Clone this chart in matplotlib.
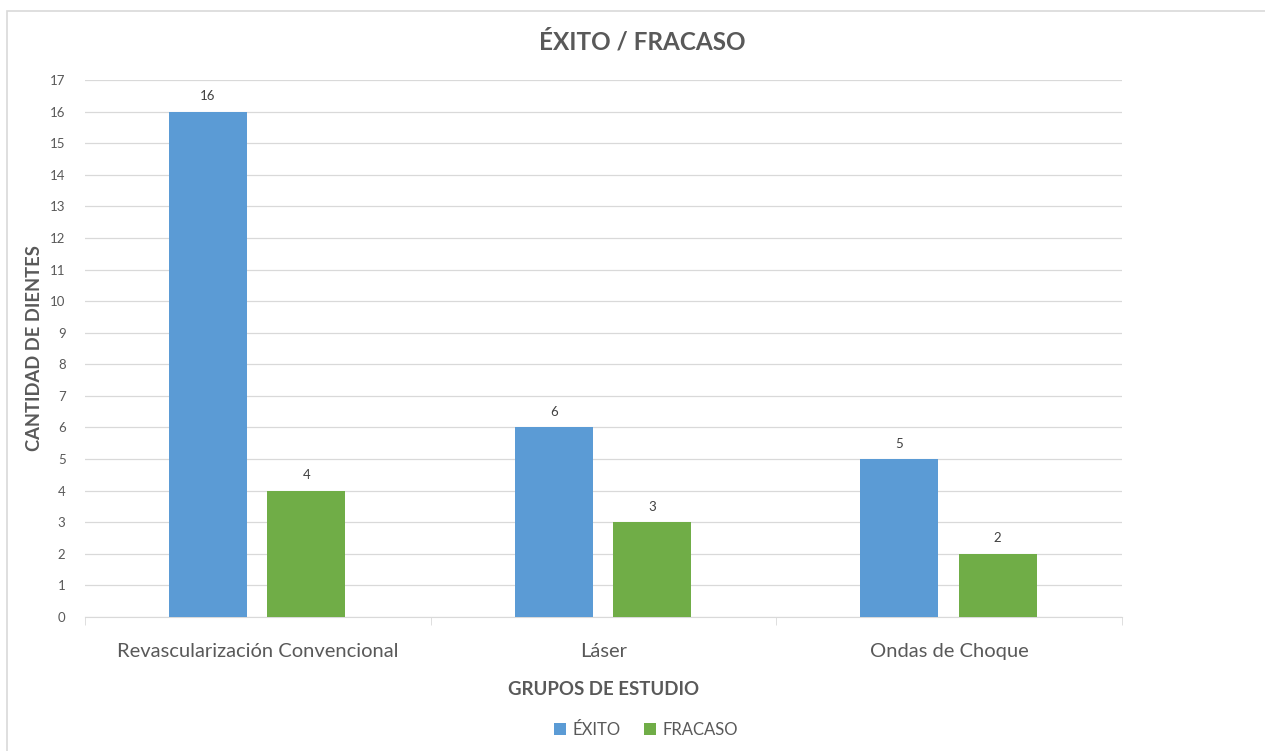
import matplotlib.pyplot as plt
import numpy as np
from matplotlib.patches import Rectangle

categories = ['Revascularización Convencional', 'Láser', 'Ondas de Choque']
exito = [16, 6, 5]
fracaso = [4, 3, 2]
series_names = ['ÉXITO', 'FRACASO']
yticks = list(range(0, 18))

plt.rcParams['font.family'] = ['Lato', 'DejaVu Sans']
txt = '#595959'

fig = plt.figure(figsize=(12.65, 7.51), dpi=100)
ax = fig.add_axes([85 / 1265, 1 - 617 / 751, (1122 - 85) / 1265, (617 - 80) / 751])

# outer chart frame
fig.patches.append(Rectangle((7 / 1265, -0.05), 1.1, 1 - 11 / 751 + 0.05,
                             transform=fig.transFigure, fill=False,
                             edgecolor='#d9d9d9', linewidth=1.2))

x = np.arange(len(categories))
w = 0.2256
b1 = ax.bar(x - 0.144, exito, w, color='#5b9bd5', label=series_names[0], zorder=3)
b2 = ax.bar(x + 0.14, fracaso, w, color='#70ad47', label=series_names[1], zorder=3)

for bars in (b1, b2):
    for r in bars:
        ax.text(r.get_x() + r.get_width() / 2, r.get_height() + 0.3, f'{int(r.get_height())}',
                ha='center', va='bottom', fontsize=9.5, color='#404040')

ax.set_xlim(-0.5, 2.5)
ax.set_ylim(0, 17)
ax.set_yticks(yticks)
ax.yaxis.grid(True, color='#d9d9d9', linewidth=0.9, zorder=0)
ax.set_axisbelow(True)
for s in ['top', 'right', 'left']:
    ax.spines[s].set_visible(False)
ax.spines['bottom'].set_color('#d9d9d9')
ax.tick_params(axis='y', length=0, labelsize=9.5, labelcolor=txt, pad=14)
ax.set_xticks(x)
ax.set_xticklabels(categories, fontsize=14.5, color=txt)
ax.set_xticks([-0.5, 0.5, 1.5, 2.5], minor=True)
ax.tick_params(axis='x', which='major', length=0, pad=19)
ax.tick_params(axis='x', which='minor', length=6, color='#d9d9d9')

ax.set_ylabel('CANTIDAD DE DIENTES', fontsize=13.2, fontweight='bold', color=txt, labelpad=5)
ax.set_xlabel('GRUPOS DE ESTUDIO', fontsize=13.4, fontweight='bold', color=txt, labelpad=15)
fig.text(642 / 1265, 1 - 42 / 751, 'ÉXITO / FRACASO', ha='center', va='center',
         fontsize=17.5, fontweight='bold', color=txt)

fig.legend(handles=[b1, b2], loc='center', bbox_to_anchor=(646 / 1265, 1 - 730 / 751), ncol=2,
           frameon=False, fontsize=12, labelcolor=txt, handlelength=0.7, handleheight=0.7,
           handletextpad=0.4, columnspacing=1.4)

fig.savefig('out.png', dpi=100, facecolor='white')
